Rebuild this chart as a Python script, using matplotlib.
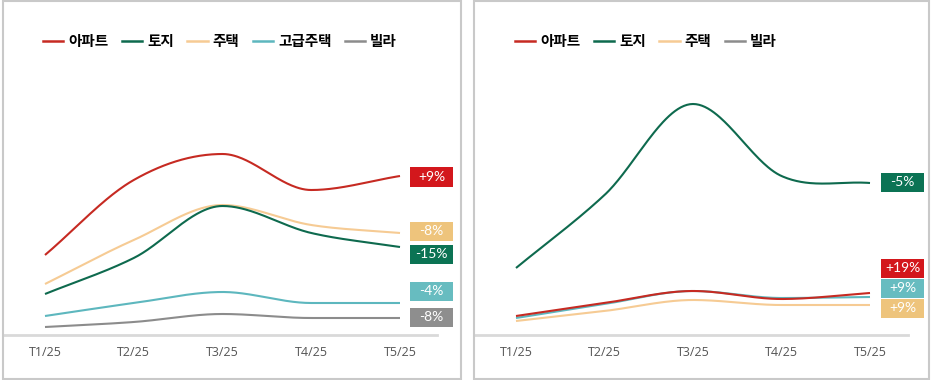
import numpy as np
import matplotlib
matplotlib.use('Agg')
from matplotlib import pyplot as plt
from matplotlib.patches import Rectangle
from matplotlib.lines import Line2D

plt.rcParams['font.family'] = ['Noto Sans CJK KR', 'DejaVu Sans']

periods = ['T1/25', 'T2/25', 'T3/25', 'T4/25', 'T5/25']

# left panel (index)
left_names = ['아파트', '토지', '주택', '고급주택', '빌라']
left_apt = [85, 160, 186, 150, 164]
left_land = [46, 82, 134, 107, 93]
left_house = [56, 100, 135, 115, 107]
left_lux = [24, 37, 48, 37, 37]
left_villa = [13, 18, 26, 22, 22]
left_labels = ['+9%', '-15%', '-8%', '-4%', '-8%']

# right panel
right_names = ['아파트', '토지', '주택', '빌라']
right_apt = [24, 37, 49, 41, 47]
right_land = [72, 145, 236, 164, 157]
right_house = [19, 29, 40, 35, 35]
right_villa = [22, 36, 49, 42, 43]
right_labels = ['+19%', '-5%', '+9%', '+9%']

RED = '#C62A22'
GREEN = '#0E6A4E'
BEIGE = '#F6CB94'
TEAL = '#5DB7BE'
GRAY = '#8C8C8C'

BOX_RED = '#D3171C'
BOX_GREEN = '#0B7354'
BOX_BEIGE = '#EEC47C'
BOX_TEAL = '#67BCC0'
BOX_GRAY = '#8E8E8E'


def smooth(y, n=60):
    # cubic hermite with flat tangents at turning points, just for drawing
    y = np.asarray(y, float)
    x = np.arange(len(y), dtype=float)
    d = np.diff(y)
    m = np.zeros_like(y)
    m[0], m[-1] = d[0], d[-1]
    for i in range(1, len(y) - 1):
        if d[i - 1] * d[i] <= 0:
            m[i] = 0
        else:
            m[i] = (d[i - 1] + d[i]) / 2
    xs, ys = [], []
    for i in range(len(y) - 1):
        t = np.linspace(0, 1, n)
        h00 = 2 * t**3 - 3 * t**2 + 1
        h10 = t**3 - 2 * t**2 + t
        h01 = -2 * t**3 + 3 * t**2
        h11 = t**3 - t**2
        xs.append(x[i] + t)
        ys.append(h00 * y[i] + h10 * m[i] + h01 * y[i + 1] + h11 * m[i + 1])
    return np.concatenate(xs), np.concatenate(ys)


fig = plt.figure(figsize=(9.31, 3.8), dpi=100)
W, H = 931, 380

# panel frames
for x0, x1 in [(3, 461), (474, 929)]:
    fig.patches.append(Rectangle((x0 / W, 1 / H), (x1 - x0) / W, (H - 2) / H,
                                 transform=fig.transFigure, fill=False,
                                 edgecolor='#C9C9C9', linewidth=1.5))

ybot, ytop = 335, 60
vmin, vmax = 5, 280


def make_axes(px_left, px_right, x_first, x_last):
    ax = fig.add_axes([px_left / W, (H - ybot) / H, (px_right - px_left) / W,
                       (ybot - ytop) / H])
    unit = (x_last - x_first) / 4
    ax.set_xlim(-(x_first - px_left) / unit, 4 + (px_right - x_last) / unit)
    ax.set_ylim(vmin, vmax)
    for s in ['top', 'right', 'left']:
        ax.spines[s].set_visible(False)
    ax.spines['bottom'].set_color('#D9D9D9')
    ax.spines['bottom'].set_linewidth(2)
    ax.set_yticks([])
    ax.set_xticks(range(5))
    ax.set_xticklabels(periods, fontfamily=['Open Sans', 'DejaVu Sans'],
                       fontsize=9, color='#555555')
    ax.tick_params(axis='x', length=0, pad=8)
    ax.patch.set_alpha(0)
    return ax


def box(ax, x_px, y, text, color):
    # fixed-size tag, 43x19 px, anchored at a data y value
    _, ypx = ax.transData.transform((0, y))
    w, h = 43, 19
    fig.patches.append(Rectangle(((x_px) / W, (ypx - h / 2) / H), w / W, h / H,
                                 transform=fig.transFigure, facecolor=color,
                                 edgecolor='none'))
    fig.text((x_px + w / 2) / W, ypx / H, text, ha='center', va='center',
             color='white', fontsize=10, fontfamily=['Lato', 'DejaVu Sans'])


def legend(ax, names, line_colors, x_px):
    handles = [Line2D([], [], color=c, lw=1.8) for c in line_colors]
    ax.legend(handles, names, loc='center left',
              bbox_to_anchor=(x_px / W, (H - 41) / H), bbox_transform=fig.transFigure,
              ncol=len(names), frameon=False, handlelength=1.4, handletextpad=0.35,
              columnspacing=0.9, borderpad=0, borderaxespad=0,
              prop=dict(size=10.5, weight='bold'))


# left panel
ax1 = make_axes(3, 437, 45, 400)
for vals, c in [(left_villa, GRAY), (left_lux, TEAL), (left_house, BEIGE),
                (left_land, GREEN), (left_apt, RED)]:
    xs, ys = smooth(vals)
    ax1.plot(xs, ys, color=c, lw=1.5, solid_capstyle='butt')
box(ax1, 410, 163, left_labels[0], BOX_RED)
box(ax1, 410, 86, left_labels[1], BOX_GREEN)
box(ax1, 410, 109, left_labels[2], BOX_BEIGE)
box(ax1, 410, 49, left_labels[3], BOX_TEAL)
box(ax1, 410, 23, left_labels[4], BOX_GRAY)
legend(ax1, left_names, [RED, GREEN, BEIGE, TEAL, GRAY], 43)

# right panel
ax2 = make_axes(474, 908, 516, 870)
for vals, c in [(right_house, BEIGE), (right_villa, TEAL), (right_apt, RED),
                (right_land, GREEN)]:
    xs, ys = smooth(vals)
    ax2.plot(xs, ys, color=c, lw=1.5, solid_capstyle='butt')
box(ax2, 881, 72, right_labels[0], BOX_RED)
box(ax2, 881, 158, right_labels[1], BOX_GREEN)
box(ax2, 881, 32, right_labels[2], BOX_BEIGE)
box(ax2, 881, 52, right_labels[3], BOX_TEAL)
legend(ax2, right_names, [RED, GREEN, BEIGE, GRAY], 515)

fig.savefig('out.png', dpi=100)
